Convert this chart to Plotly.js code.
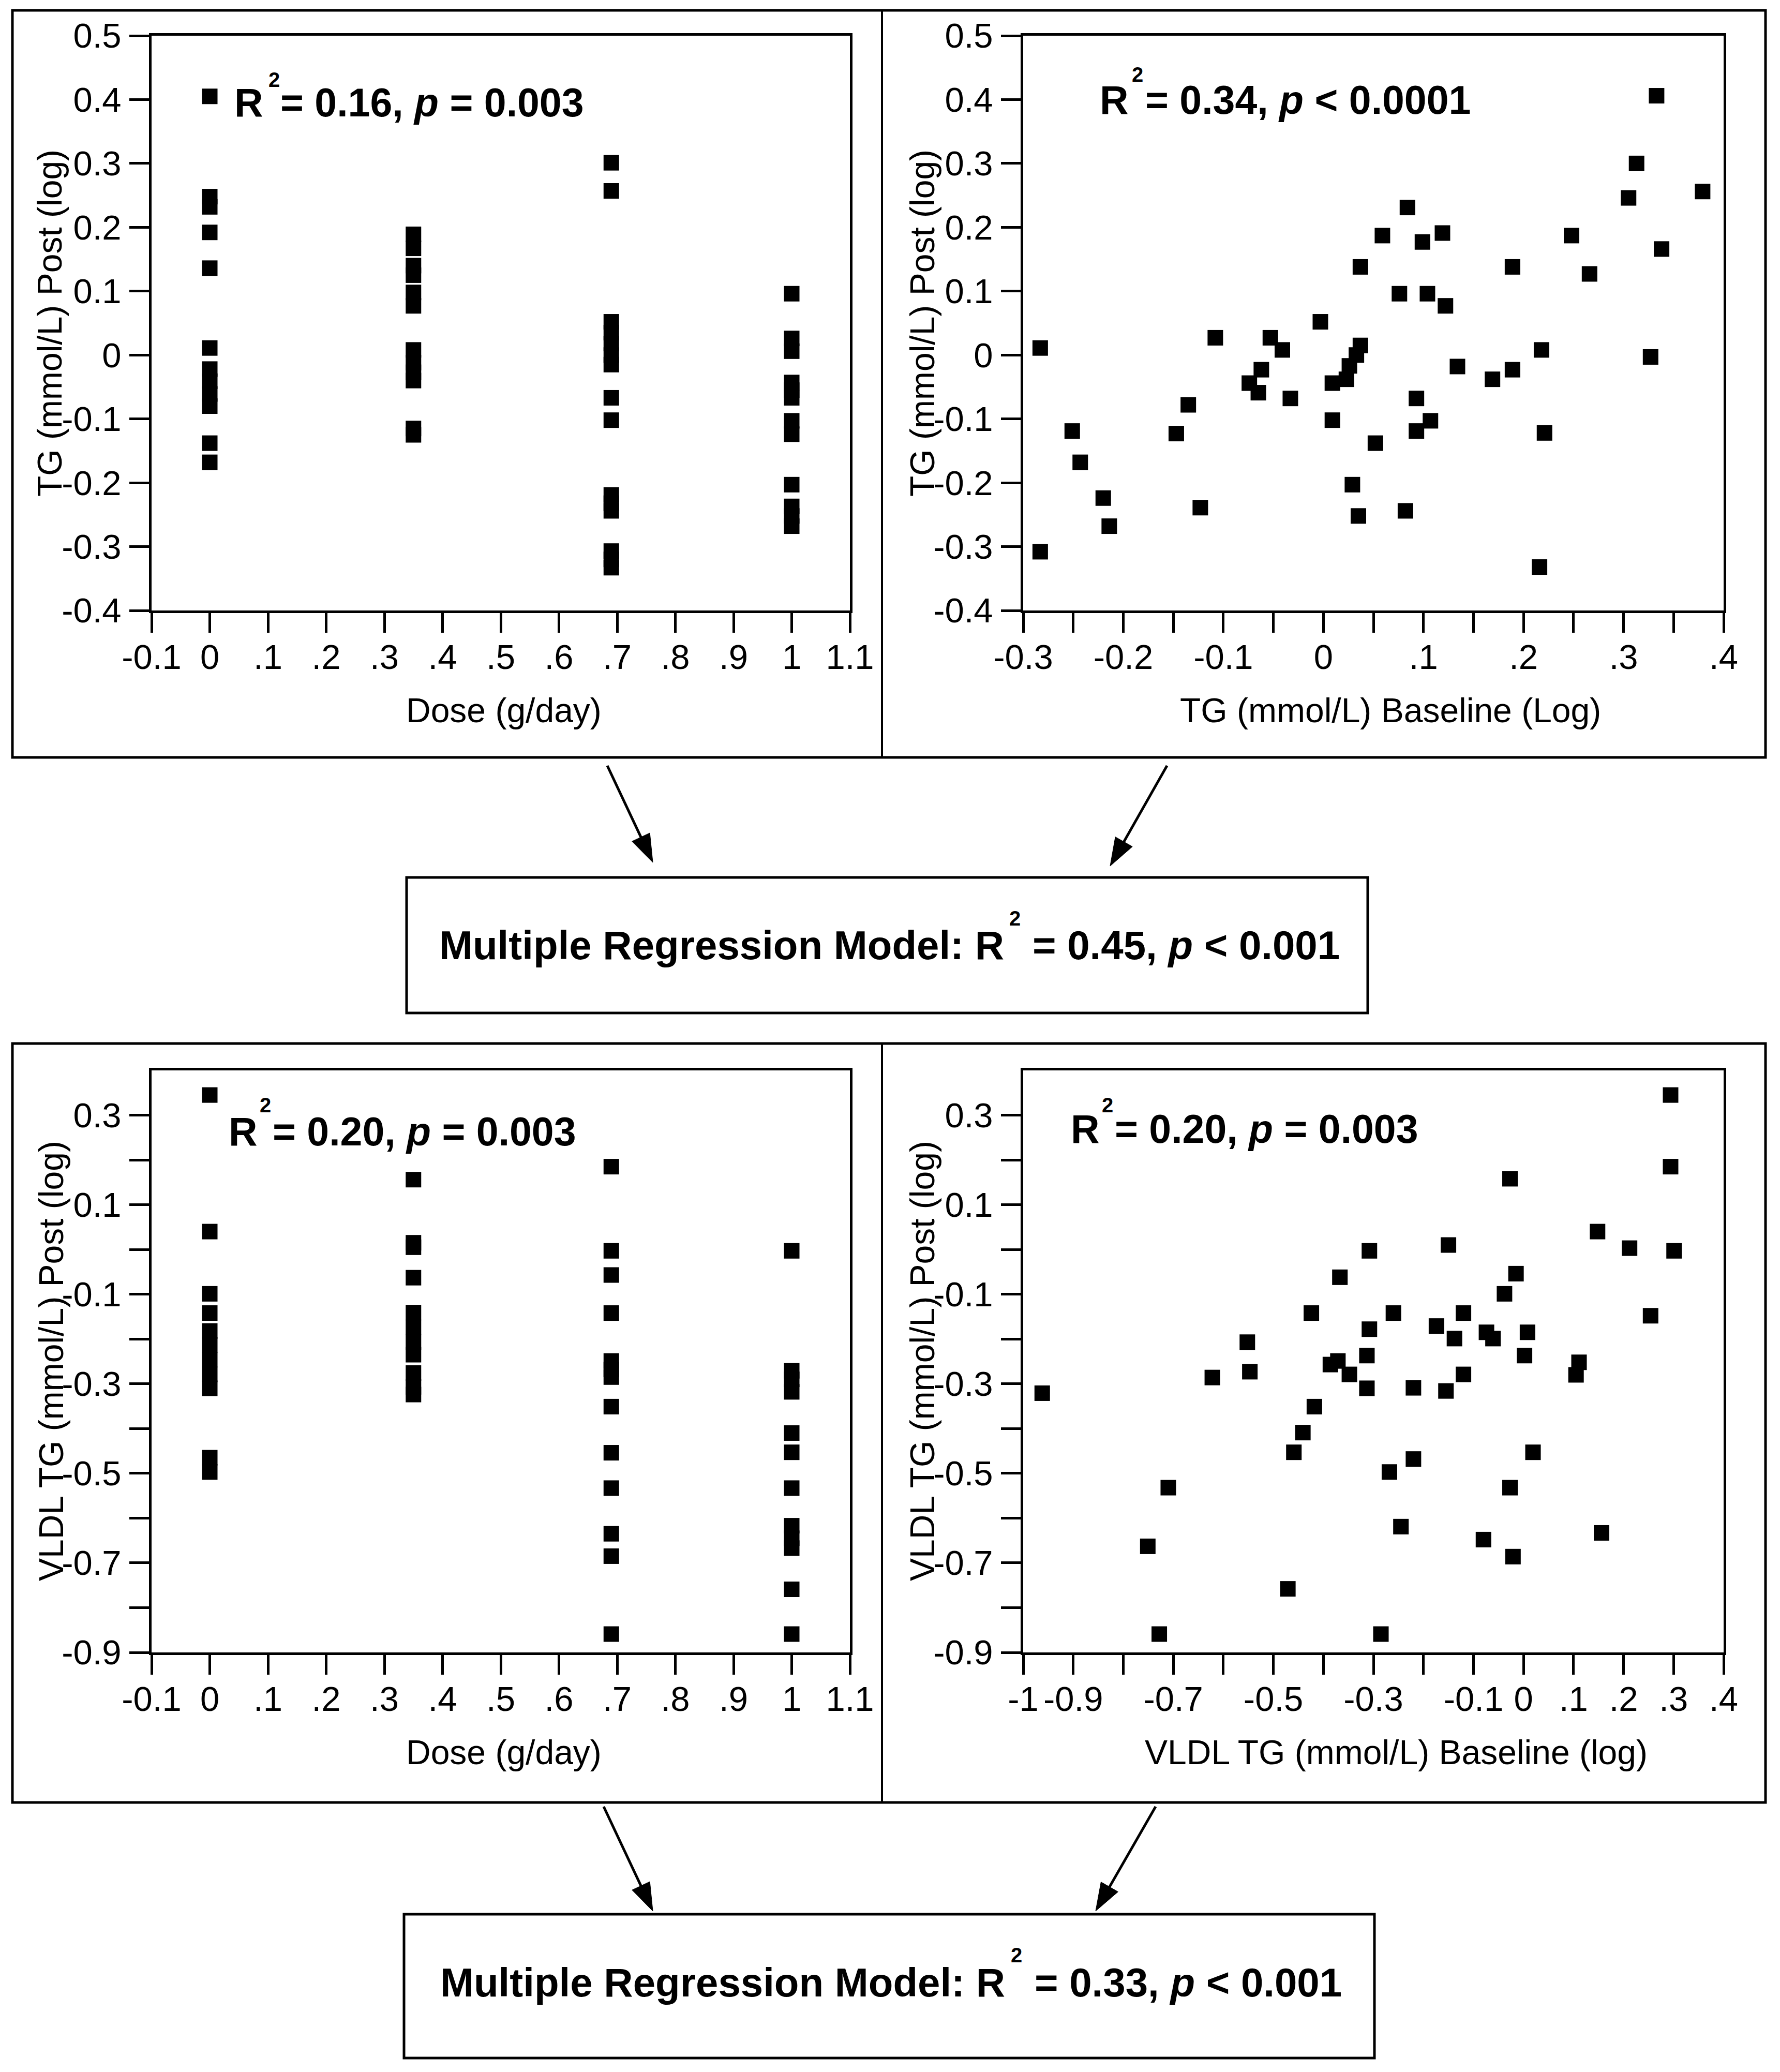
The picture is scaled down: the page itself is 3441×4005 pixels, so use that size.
<!DOCTYPE html>
<html>
<head>
<meta charset="utf-8">
<script src="https://cdn.plot.ly/plotly-3.0.1.min.js"></script>
<style>
html, body { margin: 0; padding: 0; background: #ffffff; }
#chart { width: 3441px; height: 4005px; }
</style>
</head>
<body>
<div id="chart"></div>
<script>
// ---------------- DATA ----------------
const doseLevels = [0, 0.35, 0.69, 1];

// Top-left: TG (mmol/L) Post (log) by dose group
const tgPostByDose = [
  [0.405, 0.248, 0.232, 0.192, 0.136, 0.011, -0.022, -0.041, -0.061, -0.080, -0.138, -0.168],
  [0.189, 0.167, 0.140, 0.125, 0.098, 0.077, 0.008, -0.012, -0.027, -0.040, -0.115, -0.125],
  [0.301, 0.257, 0.052, 0.035, 0.018, 0.000, -0.015, -0.067, -0.102, -0.219, -0.232, -0.244, -0.307, -0.320, -0.333],
  [0.096, 0.026, 0.006, -0.043, -0.055, -0.067, -0.103, -0.124, -0.203, -0.237, -0.252, -0.268]
];

// Top-right: TG baseline (log) vs TG post (log)
const tgBaseline = [-0.283, -0.283, -0.251, -0.243, -0.220, -0.214, -0.147, -0.135, -0.123, -0.108,
  -0.074, -0.065, -0.062, -0.053, -0.041, -0.033, -0.003, 0.009, 0.009, 0.023,
  0.026, 0.033, 0.037, 0.037, 0.029, 0.035, 0.052, 0.059, 0.076, 0.084,
  0.082, 0.093, 0.093, 0.099, 0.104, 0.107, 0.119, 0.122, 0.134, 0.169,
  0.189, 0.189, 0.216, 0.218, 0.221, 0.248, 0.266, 0.305, 0.313, 0.333,
  0.327, 0.338, 0.379];
const tgPost = [0.011, -0.308, -0.119, -0.168, -0.224, -0.268, -0.123, -0.078, -0.239, 0.027,
  -0.044, -0.059, -0.023, 0.027, 0.008, -0.068, 0.052, -0.044, -0.102, -0.038,
  -0.017, 0.000, 0.015, 0.138, -0.203, -0.252, -0.138, 0.187, 0.096, 0.231,
  -0.244, -0.068, -0.119, 0.177, 0.096, -0.103, 0.191, 0.077, -0.018, -0.038,
  0.138, -0.023, -0.332, 0.008, -0.122, 0.187, 0.127, 0.246, 0.300, 0.406,
  -0.003, 0.166, 0.256];

// Bottom-left: VLDL TG (mmol/L) Post (log) by dose group
const vldlPostByDose = [
  [0.345, 0.040, -0.099, -0.142, -0.182, -0.213, -0.246, -0.279, -0.310, -0.465, -0.497],
  [0.156, 0.015, 0.005, -0.063, -0.141, -0.174, -0.207, -0.235, -0.276, -0.307, -0.324],
  [0.185, -0.003, -0.057, -0.142, -0.249, -0.268, -0.285, -0.351, -0.454, -0.533, -0.635, -0.685, -0.859],
  [-0.003, -0.271, -0.290, -0.318, -0.410, -0.453, -0.533, -0.617, -0.645, -0.667, -0.759, -0.859]
];

// Bottom-right: VLDL TG baseline (log) vs VLDL TG post (log)
const vldlBaseline = [-0.962, -0.751, -0.728, -0.710, -0.622, -0.552, -0.547, -0.471, -0.459, -0.441,
  -0.424, -0.418, -0.386, -0.371, -0.367, -0.348, -0.313, -0.313, -0.308, -0.308,
  -0.285, -0.268, -0.260, -0.245, -0.220, -0.220, -0.174, -0.155, -0.150, -0.138,
  -0.120, -0.120, -0.080, -0.074, -0.061, -0.038, -0.027, -0.027, -0.021, -0.015,
  0.002, 0.008, 0.019, 0.105, 0.111, 0.148, 0.156, 0.212, 0.254, 0.294,
  0.294, 0.301];
const vldlPost = [-0.321, -0.663, -0.859, -0.532, -0.286, -0.207, -0.273, -0.758, -0.453, -0.409,
  -0.142, -0.351, -0.257, -0.249, -0.062, -0.279, -0.237, -0.310, -0.003, -0.178,
  -0.859, -0.497, -0.142, -0.619, -0.309, -0.468, -0.171, -0.316, 0.010, -0.199,
  -0.142, -0.279, -0.648, -0.185, -0.199, -0.099, 0.158, -0.532, -0.686, -0.054,
  -0.237, -0.185, -0.453, -0.280, -0.252, 0.040, -0.633, 0.003, -0.148, 0.185,
  0.345, -0.003];

// Tick values / labels (labelled ticks) and unlabelled minor ticks
const doseTickVals = [-0.1, 0, 0.1, 0.2, 0.3, 0.4, 0.5, 0.6, 0.7, 0.8, 0.9, 1, 1.1];
const doseTickText = ['-0.1', '0', '.1', '.2', '.3', '.4', '.5', '.6', '.7', '.8', '.9', '1', '1.1'];
const tgYTickVals = [-0.4, -0.3, -0.2, -0.1, 0, 0.1, 0.2, 0.3, 0.4, 0.5];
const tgYTickText = ['-0.4', '-0.3', '-0.2', '-0.1', '0', '0.1', '0.2', '0.3', '0.4', '0.5'];
const tgXTickVals = [-0.3, -0.2, -0.1, 0, 0.1, 0.2, 0.3, 0.4];
const tgXTickText = ['-0.3', '-0.2', '-0.1', '0', '.1', '.2', '.3', '.4'];
const tgXMinorVals = [-0.25, -0.15, -0.05, 0.05, 0.15, 0.25, 0.35];
const vldlYTickVals = [-0.9, -0.7, -0.5, -0.3, -0.1, 0.1, 0.3];
const vldlYTickText = ['-0.9', '-0.7', '-0.5', '-0.3', '-0.1', '0.1', '0.3'];
const vldlYMinorVals = [-0.8, -0.6, -0.4, -0.2, 0, 0.2];
const vldlXTickVals = [-1, -0.9, -0.7, -0.5, -0.3, -0.1, 0, 0.1, 0.2, 0.3, 0.4];
const vldlXTickText = ['-1', '-0.9', '-0.7', '-0.5', '-0.3', '-0.1', '0', '.1', '.2', '.3', '.4'];
const vldlXMinorVals = [-0.8, -0.6, -0.4, -0.2];

// Texts: each "R² = ..." is drawn as "R", a raised "2", and the rest, as laid out in the source figure
const statLead = '<b>R</b>';
const statRest = [
  '<b>= 0.16, <i>p</i> = 0.003</b>',
  '<b>= 0.34, <i>p</i> &lt; 0.0001</b>',
  '<b>= 0.20, <i>p</i> = 0.003</b>',
  '<b>= 0.20, <i>p</i> = 0.003</b>'
];
const modelLead = '<b>Multiple Regression Model: R</b>';
const modelRest = [
  '<b>= 0.45, <i>p</i> &lt; 0.001</b>',
  '<b>= 0.33, <i>p</i> &lt; 0.001</b>'
];
const squaredMark = '<b>2</b>';
const xTitles = ['Dose (g/day)', 'TG (mmol/L) Baseline (Log)', 'Dose (g/day)', 'VLDL TG (mmol/L) Baseline (log)'];
const yTitles = ['TG (mmol/L) Post (log)', 'TG (mmol/L) Post (log)', 'VLDL TG (mmol/L) Post (log)', 'VLDL TG (mmol/L) Post (log)'];

// ---------------- LAYOUT HELPERS ----------------
const W = 3441, H = 4005;
const px = x => x / W;
const py = y => 1 - y / H;
const FONT = 'Liberation Sans, Arial, Helvetica, sans-serif';

function expandDose(groups) {
  const xs = [], ys = [];
  groups.forEach((g, i) => g.forEach(v => { xs.push(doseLevels[i]); ys.push(v); }));
  return { xs, ys };
}

const marker = { symbol: 'square', size: 30, color: '#000000', line: { width: 0 } };
const d1 = expandDose(tgPostByDose);
const d3 = expandDose(vldlPostByDose);

const traces = [
  { type: 'scatter', mode: 'markers', x: d1.xs, y: d1.ys, xaxis: 'x', yaxis: 'y', marker: marker, cliponaxis: false },
  { type: 'scatter', mode: 'markers', x: tgBaseline, y: tgPost, xaxis: 'x2', yaxis: 'y2', marker: marker, cliponaxis: false },
  { type: 'scatter', mode: 'markers', x: d3.xs, y: d3.ys, xaxis: 'x3', yaxis: 'y3', marker: marker, cliponaxis: false },
  { type: 'scatter', mode: 'markers', x: vldlBaseline, y: vldlPost, xaxis: 'x4', yaxis: 'y4', marker: marker, cliponaxis: false }
];

function axis(domain, anchor, range, vals, text, isX, minorVals) {
  const a = {
    domain: domain, anchor: anchor, range: range,
    tickmode: 'array', tickvals: vals, ticktext: text,
    ticks: 'outside', ticklen: 38, tickwidth: 5, tickcolor: '#000',
    showline: true, linewidth: 5, linecolor: '#000', mirror: true,
    showgrid: false, zeroline: false, fixedrange: true,
    tickfont: { family: FONT, size: 67, color: '#000' },
    ticklabelstandoff: isX ? -10 : 2,
    automargin: false
  };
  if (minorVals) {
    a.minor = { tickmode: 'array', tickvals: minorVals, ticks: 'outside', ticklen: 38, tickwidth: 5, tickcolor: '#000', showgrid: false };
  }
  return a;
}

const leftX = [px(293), px(1643)], rightX = [px(1978), px(3332)];
const topY = [py(1180), py(69)], botY = [py(3194), py(2069)];

const layout = {
  width: W, height: H,
  margin: { l: 0, r: 0, t: 0, b: 0, pad: 0 },
  paper_bgcolor: '#ffffff', plot_bgcolor: '#ffffff',
  showlegend: false,
  font: { family: FONT, color: '#000' },
  xaxis: axis(leftX, 'y', [-0.1, 1.1], doseTickVals, doseTickText, true),
  yaxis: axis(topY, 'x', [-0.4, 0.5], tgYTickVals, tgYTickText, false),
  xaxis2: axis(rightX, 'y2', [-0.3, 0.4], tgXTickVals, tgXTickText, true, tgXMinorVals),
  yaxis2: axis(topY, 'x2', [-0.4, 0.5], tgYTickVals, tgYTickText, false),
  xaxis3: axis(leftX, 'y3', [-0.1, 1.1], doseTickVals, doseTickText, true),
  yaxis3: axis(botY, 'x3', [-0.9, 0.4], vldlYTickVals, vldlYTickText, false, vldlYMinorVals),
  xaxis4: axis(rightX, 'y4', [-1, 0.4], vldlXTickVals, vldlXTickText, true, vldlXMinorVals),
  yaxis4: axis(botY, 'x4', [-0.9, 0.4], vldlYTickVals, vldlYTickText, false, vldlYMinorVals),
  shapes: [],
  annotations: []
};

const lineStyle = { color: '#000', width: 5 };
// outer frames
[[20, 1464], [2017, 3484]].forEach(([t, b]) => {
  layout.shapes.push({ type: 'rect', xref: 'paper', yref: 'paper', x0: px(24), x1: px(3413), y0: py(b), y1: py(t), line: lineStyle });
  layout.shapes.push({ type: 'line', xref: 'paper', yref: 'paper', x0: px(1705), x1: px(1705), y0: py(b), y1: py(t), line: { color: '#000', width: 4 } });
});
// model boxes
layout.shapes.push({ type: 'rect', xref: 'paper', yref: 'paper', x0: px(786), x1: px(2644), y0: py(1958), y1: py(1696), line: lineStyle });
layout.shapes.push({ type: 'rect', xref: 'paper', yref: 'paper', x0: px(781), x1: px(2657), y0: py(3978), y1: py(3700), line: lineStyle });

// arrows drawn as shapes: [tipX, tipY, tailX, tailY] in page pixels
const arrows = [[1262, 1667, 1174, 1480], [2146, 1674, 2256, 1480], [1262, 3694, 1167, 3492], [2118, 3694, 2234, 3492]];
const HEAD_LEN = 54, HEAD_HALF = 19;
arrows.forEach(a => {
  const dx = a[0] - a[2], dy = a[1] - a[3];
  const len = Math.hypot(dx, dy);
  const ux = dx / len, uy = dy / len;
  const bx = a[0] - ux * HEAD_LEN, by = a[1] - uy * HEAD_LEN;
  const nx = -uy, ny = ux;
  layout.shapes.push({ type: 'line', xref: 'paper', yref: 'paper', x0: px(a[2]), y0: py(a[3]), x1: px(bx + ux * 10), y1: py(by + uy * 10), line: { color: '#000', width: 5 } });
  const p1 = [a[0], a[1]], p2 = [bx + nx * HEAD_HALF, by + ny * HEAD_HALF], p3 = [bx - nx * HEAD_HALF, by - ny * HEAD_HALF];
  const path = 'M' + px(p1[0]) + ',' + py(p1[1]) + ' L' + px(p2[0]) + ',' + py(p2[1]) + ' L' + px(p3[0]) + ',' + py(p3[1]) + ' Z';
  layout.shapes.push({ type: 'path', xref: 'paper', yref: 'paper', path: path, fillcolor: '#000', line: { color: '#000', width: 1 } });
});

function ann(text, x, y, size, extra) {
  return Object.assign({ text: text, x: px(x), y: py(y), xref: 'paper', yref: 'paper', showarrow: false,
    font: { family: FONT, size: size, color: '#000' }, xanchor: 'center', yanchor: 'middle' }, extra || {});
}

// axis titles
const xTitlePos = [[974, 1373], [2688, 1373], [974, 3387], [2699, 3387]];
const yTitlePos = [[96, 625], [1783, 625], [99, 2631], [1783, 2631]];
xTitles.forEach((t, i) => layout.annotations.push(ann(t, xTitlePos[i][0], xTitlePos[i][1], 66)));
yTitles.forEach((t, i) => layout.annotations.push(ann(t, yTitlePos[i][0], yTitlePos[i][1], 66, { textangle: -90 })));

// stats: [R right edge, "2" centre x, "=" left edge, caps centre y, "2" centre y]
const statPos = [[511, 530, 540, 198, 154], [2184, 2199, 2212, 193, 144], [500, 513, 525, 2187, 2136], [2128, 2141, 2153, 2182, 2136]];
statRest.forEach((t, i) => {
  const s = statPos[i];
  layout.annotations.push(ann(statLead, s[0], s[3], 77, { xanchor: 'right' }));
  layout.annotations.push(ann(squaredMark, s[1], s[4], 40));
  layout.annotations.push(ann(t, s[2], s[3], 77, { xanchor: 'left' }));
});

// model texts: [R right edge, "2" centre x, "=" left edge, caps centre y, "2" centre y]
const modelPos = [[1943, 1962, 1994, 1827, 1775], [1945, 1965, 1998, 3832, 3779]];
modelRest.forEach((t, i) => {
  const s = modelPos[i];
  layout.annotations.push(ann(modelLead, s[0], s[3], 78, { xanchor: 'right' }));
  layout.annotations.push(ann(squaredMark, s[1], s[4], 40));
  layout.annotations.push(ann(t, s[2], s[3], 78, { xanchor: 'left' }));
});

Plotly.newPlot('chart', traces, layout, { displayModeBar: false, staticPlot: true });
</script>
</body>
</html>
